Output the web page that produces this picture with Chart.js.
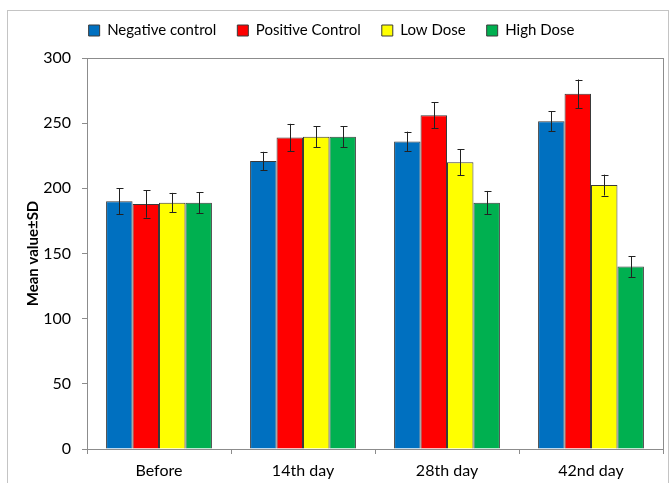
<!DOCTYPE html>
<html>
<head>
<meta charset="utf-8">
<script src="https://cdn.jsdelivr.net/npm/chart.js@4.4.1/dist/chart.umd.min.js"></script>
<style>
    html, body { margin: 0; padding: 0; background: #fff; }
    #wrap { position: relative; width: 669px; height: 483px; overflow: hidden; }
    #frame { position: absolute; left: 7px; top: 10px; width: 660px; height: 490px; border: 1px solid #c4c4c4; }
    canvas { position: absolute; left: 0; top: 0; }
</style>
</head>
<body>
<div id="wrap">
    <div id="frame"></div>
    <canvas id="chart" width="669" height="483"></canvas>
</div>
<script>
// categories and series
const categories = ['Before', '14th day', '28th day', '42nd day'];
const seriesNames = ['Negative control', 'Positive Control', 'Low Dose', 'High Dose'];
const negative = [190, 221, 236, 251.5];
const positive = [188, 239, 256, 272.5];
const lowDose = [189, 239.5, 220, 202.5];
const highDose = [189, 239.5, 189, 140];
// standard deviations (error bars)
const negativeSD = [10, 7, 7.5, 7.5];
const positiveSD = [10.5, 10.5, 10, 11];
const lowDoseSD = [7.5, 8, 10, 8];
const highDoseSD = [8, 8, 9, 8];
const yTicks = [0, 50, 100, 150, 200, 250, 300];

const colors = ['#0070C0', '#FF0000', '#FFFF00', '#00B050'];
const values = [negative, positive, lowDose, highDose];
const sds = [negativeSD, positiveSD, lowDoseSD, highDoseSD];

const FONT = 'Lato, "Open Sans", sans-serif';
const AXIS = '#8c8c8c';

// error bars drawn from the value scale
const errorBars = {
    id: 'errorBars',
    afterDatasetsDraw(chart) {
        const ctx = chart.ctx;
        const y = chart.scales.y;
        ctx.save();
        ctx.strokeStyle = '#222';
        ctx.lineWidth = 1;
        chart.data.datasets.forEach((ds, i) => {
            const meta = chart.getDatasetMeta(i);
            meta.data.forEach((bar, j) => {
                const v = ds.data[j];
                const sd = ds.sd[j];
                const x = Math.round(bar.x) + 0.5;
                const top = y.getPixelForValue(v + sd);
                const bottom = y.getPixelForValue(v - sd);
                ctx.beginPath();
                ctx.moveTo(x, top);
                ctx.lineTo(x, bottom);
                ctx.moveTo(x - 3, Math.round(top) + 0.5);
                ctx.lineTo(x + 4, Math.round(top) + 0.5);
                ctx.moveTo(x - 3, Math.round(bottom) + 0.5);
                ctx.lineTo(x + 4, Math.round(bottom) + 0.5);
                ctx.stroke();
            });
        });
        ctx.restore();
    }
};

// plot area box (top and right edges)
const plotBox = {
    id: 'plotBox',
    beforeDatasetsDraw(chart) {
        const a = chart.chartArea;
        const ctx = chart.ctx;
        ctx.save();
        ctx.strokeStyle = AXIS;
        ctx.lineWidth = 1;
        ctx.strokeRect(Math.round(a.left) + 0.5, Math.round(a.top) + 0.5,
            Math.round(a.right - a.left), Math.round(a.bottom - a.top));
        ctx.restore();
    }
};

// extra room under the legend
const legendGap = {
    id: 'legendGap',
    afterInit(chart) {
        const fit = chart.legend.fit;
        chart.legend.fit = function () {
            fit.call(this);
            this.height += 10;
        };
    }
};

new Chart(document.getElementById('chart'), {
    type: 'bar',
    data: {
        labels: categories,
        datasets: seriesNames.map((name, i) => ({
            label: name,
            data: values[i],
            sd: sds[i],
            backgroundColor: colors[i],
            borderColor: '#3a3a3a',
            borderWidth: 1,
            barPercentage: 1,
            categoryPercentage: 0.735
        }))
    },
    options: {
        responsive: false,
        animation: false,
        layout: { padding: { top: 2, right: 6, left: 0, bottom: 0 } },
        plugins: {
            tooltip: { enabled: false },
            legend: {
                position: 'top',
                labels: {
                    boxWidth: 11,
                    boxHeight: 11,
                    padding: 21,
                    color: '#000',
                    font: { family: FONT, size: 15 }
                }
            }
        },
        scales: {
            x: {
                grid: { display: true, drawOnChartArea: false, color: AXIS, tickLength: 5, offset: true },
                border: { color: AXIS },
                ticks: { color: '#000', padding: 7, font: { family: FONT, size: 16 } },
                afterFit(scale) { scale.height = 34; }
            },
            y: {
                min: 0,
                max: 300,
                afterBuildTicks(scale) { scale.ticks = yTicks.map(v => ({ value: v })); },
                grid: { display: true, drawOnChartArea: false, color: AXIS, tickLength: 5 },
                border: { color: AXIS },
                ticks: { color: '#000', padding: 11, font: { family: FONT, size: 16 } },
                title: {
                    display: true,
                    text: 'Mean value±SD',
                    color: '#000',
                    padding: { top: 24, bottom: 0 },
                    font: { family: FONT, size: 15, weight: 'bold' }
                },
                afterFit(scale) { scale.width = 87; }
            }
        }
    },
    plugins: [errorBars, plotBox, legendGap]
});
</script>
</body>
</html>
